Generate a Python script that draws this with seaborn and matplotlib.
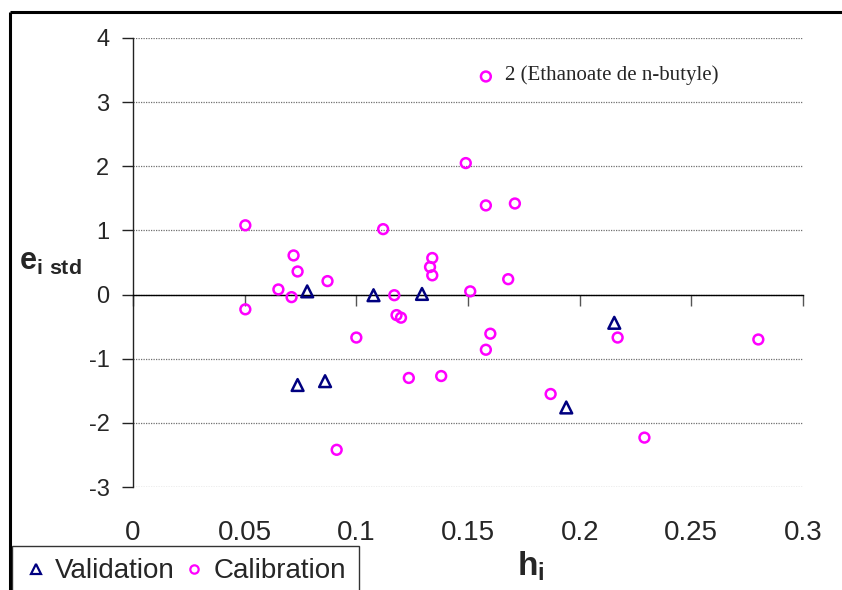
import numpy as np
import pandas as pd
import matplotlib
matplotlib.use("Agg")
import matplotlib.pyplot as plt
from matplotlib.lines import Line2D
import seaborn as sns

# ---- data ----
cal_h = [0.158, 0.149, 0.158, 0.171, 0.0503, 0.112, 0.0719, 0.0737, 0.134, 0.133,
         0.134, 0.0871, 0.168, 0.0651, 0.071, 0.117, 0.151, 0.0503, 0.118, 0.120,
         0.100, 0.160, 0.158, 0.217, 0.280, 0.1235, 0.138, 0.187, 0.0912, 0.229]
cal_e = [3.40, 2.05, 1.39, 1.42, 1.08, 1.02, 0.61, 0.36, 0.57, 0.43,
         0.30, 0.21, 0.24, 0.08, -0.04, -0.01, 0.05, -0.23, -0.32, -0.36,
         -0.67, -0.61, -0.86, -0.67, -0.70, -1.30, -1.27, -1.55, -2.42, -2.23]
val_h = [0.078, 0.1077, 0.1294, 0.0737, 0.086, 0.194, 0.2155]
val_e = [0.05, -0.01, 0.01, -1.41, -1.35, -1.76, -0.44]
x_ticks = [0, 0.05, 0.1, 0.15, 0.2, 0.25, 0.3]
x_tick_labels = ["0", "0.05", "0.1", "0.15", "0.2", "0.25", "0.3"]
y_ticks = [-3, -2, -1, 0, 1, 2, 3, 4]
y_tick_labels = ["-3", "-2", "-1", "0", "1", "2", "3", "4"]
annot_text = "2 (Ethanoate de n-butyle)"
annot_index = 0

CAL_COLOR = "#FF00FF"
VAL_COLOR = "#000080"

sns.set_style("white")
plt.rcParams["font.family"] = ["Liberation Sans", "DejaVu Sans"]
plt.rcParams["axes.unicode_minus"] = False
plt.rcParams["mathtext.fontset"] = "custom"
plt.rcParams["mathtext.rm"] = "Liberation Sans"
plt.rcParams["mathtext.bf"] = "Liberation Sans:bold"

df_cal = pd.DataFrame({"h": cal_h, "e": cal_e})
df_val = pd.DataFrame({"h": val_h, "e": val_e})

fig = plt.figure(figsize=(8.42, 5.90), dpi=100)
fig.patch.set_facecolor("white")
fig.patch.set_edgecolor("white")
fig.patch.set_linewidth(0)
ax = fig.add_axes([133 / 842, 1 - 487 / 590, (803 - 133) / 842, (487 - 38) / 590])

sns.scatterplot(data=df_cal, x="h", y="e", ax=ax, marker="o", s=50,
                color=CAL_COLOR, linewidth=1.8, zorder=3, legend=False)
sns.scatterplot(data=df_val, x="h", y="e", ax=ax, marker="^", s=72,
                color=VAL_COLOR, linewidth=1.8, zorder=4, legend=False)
for coll, col in zip(ax.collections, [CAL_COLOR, VAL_COLOR]):
    coll.set_facecolor("none")
    coll.set_edgecolor(col)
    coll.set_linewidth(1.8)

ax.set_xlim(0, 0.3)
ax.set_ylim(-3, 4)
ax.set_xlabel("")
ax.set_ylabel("")

# grid
ax.set_yticks(y_ticks)
ax.set_yticklabels(y_tick_labels)
ax.yaxis.grid(True, color="#707070", linestyle=(0, (1, 1)), linewidth=0.9)
ax.xaxis.grid(False)
ax.set_axisbelow(True)

# spines
for s in ["top", "right"]:
    ax.spines[s].set_visible(False)
ax.spines["left"].set_color("#222222")
ax.spines["left"].set_linewidth(1.0)
ax.spines["bottom"].set_position(("data", 0))
ax.spines["bottom"].set_color("#000000")
ax.spines["bottom"].set_linewidth(1.0)

ax.set_xticks(x_ticks)
ax.tick_params(axis="x", bottom=True, direction="out", length=8, width=1,
               color="#555555", labelbottom=False)
ax.tick_params(axis="y", left=True, direction="out", length=8, width=1,
               color="#222222", labelsize=17, pad=9)

sec = ax.secondary_xaxis(0.0)
sec.set_xticks(x_ticks)
sec.set_xticklabels(x_tick_labels)
sec.tick_params(axis="x", length=0, labelsize=20, pad=24)
sec.spines["bottom"].set_visible(False)

# annotation
ax.annotate(annot_text, xy=(cal_h[annot_index], cal_e[annot_index]),
            xytext=(14, 1), textcoords="offset points", va="center", ha="left",
            fontsize=15, family=["Liberation Serif", "DejaVu Serif"])

# axis titles
fig.text(19 / 842, 1 - 262 / 590, r"$\mathbf{e}_{\mathbf{i\ std}}$", fontsize=22,
         ha="left", va="center")
fig.text(517 / 842, 1 - 566 / 590, r"$\mathbf{h}_{\mathbf{i}}$", fontsize=24,
         ha="left", va="center")

# legend
handles = [
    Line2D([], [], linestyle="none", marker="^", markersize=7, markerfacecolor="none",
           markeredgecolor=VAL_COLOR, markeredgewidth=1.6, label="Validation"),
    Line2D([], [], linestyle="none", marker="o", markersize=6, markerfacecolor="none",
           markeredgecolor=CAL_COLOR, markeredgewidth=1.6, label="Calibration"),
]
leg = fig.legend(handles=handles, loc="upper left",
                 bbox_to_anchor=(12 / 842, 1 - 546 / 590), ncol=2, fontsize=20,
                 frameon=True, fancybox=False, handlelength=0.8, handletextpad=0.3,
                 columnspacing=0.3, borderpad=0.45, borderaxespad=0)
leg.get_frame().set_edgecolor("#000000")
leg.get_frame().set_linewidth(1.0)

# outer frame (only top and left edges visible in the reference)
fig.add_artist(Line2D([10 / 842, 1.05], [1 - 12 / 590, 1 - 12 / 590],
                      transform=fig.transFigure, color="black", linewidth=2.2,
                      solid_capstyle="butt"))
fig.add_artist(Line2D([10 / 842, 10 / 842], [1 - 12 / 590, -0.05],
                      transform=fig.transFigure, color="black", linewidth=2.2,
                      solid_capstyle="butt"))

fig.savefig("out.png", dpi=100)
